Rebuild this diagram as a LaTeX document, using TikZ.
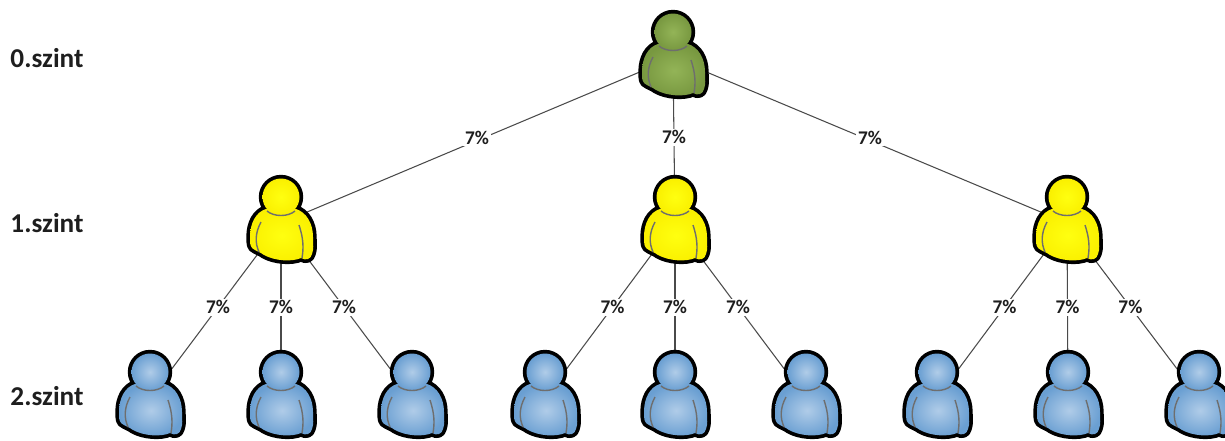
\documentclass[tikz,border=0pt]{standalone}
\usepackage{fontspec}
\setmainfont{Carlito}
\definecolor{txtcol}{HTML}{1E1E1E}
\definecolor{linecol}{HTML}{4A4A4A}
\definecolor{seamcol}{HTML}{6E6E6E}
\definecolor{greenin}{HTML}{93B457}
\definecolor{greenout}{HTML}{789840}
\definecolor{yellowin}{HTML}{FFFF10}
\definecolor{yellowout}{HTML}{FAF000}
\definecolor{bluein}{HTML}{B0CCE8}
\definecolor{blueout}{HTML}{6A9FD2}
\begin{document}
\begin{tikzpicture}[x=.02cm,y=-.02cm]

\tikzstyle{plain} = [draw=none,fill=none,inner sep=0pt,minimum size=2pt];
\tikzstyle{level} = [font=\bfseries\fontsize{15.5}{18}\selectfont,text=txtcol];
\tikzstyle{pct} = [fill=white,inner sep=1pt,font=\bfseries\fontsize{11}{13}\selectfont,text=txtcol];
\tikzstyle{link} = [draw=linecol,line width=.6pt];
\tikzstyle{outline} = [draw=black,line width=4.2pt,line join=round];
\tikzstyle{seam} = [draw=seamcol,line width=.8pt];
\def\bodypath{(-15,12) -- (15,12) .. controls (25,15) and (32,26) .. (32,40)
  .. controls (32,47) and (33,52) .. (31,57) .. controls (30,62) and (25,64) .. (20,61)
  .. controls (11,65) and (-6,64) .. (-17,58) .. controls (-21,55) and (-23,55) .. (-26,53)
  .. controls (-31,51) and (-31,47) .. (-31,40) .. controls (-31,26) and (-25,15) .. (-15,12) -- cycle}
% #1 node, #2 inner colour, #3 outer colour
\def\person#1#2#3{
  \begin{scope}[shift={(#1.center)},yshift=.52cm]
    \path[outline] \bodypath;
    \path[outline] (0,0) circle (18.5);
    \shade[inner color=#2,outer color=#3] \bodypath;
    \shade[inner color=#2,outer color=#3] (0,0) circle (18.5);
    \draw[seam] (-20,25) .. controls (-26,36) and (-26,46) .. (-22,55);
    \draw[seam] (18,28) .. controls (22,40) and (23,50) .. (21,61);
    \draw[seam] (-14,14) .. controls (-7,20) and (7,20) .. (14,14);
  \end{scope}
}
\useasboundingbox (0,0) rectangle (1225,440);

\node[plain] (a0) at (673,58) {};
\node[plain] (b0) at (281,223) {};
\node[plain] (b1) at (675,223) {};
\node[plain] (b2) at (1067,223) {};
\node[plain] (c0) at (150,398) {};
\node[plain] (c1) at (281,398) {};
\node[plain] (c2) at (412,398) {};
\node[plain] (c3) at (545,398) {};
\node[plain] (c4) at (675,398) {};
\node[plain] (c5) at (806,398) {};
\node[plain] (c6) at (937,398) {};
\node[plain] (c7) at (1068,398) {};
\node[plain] (c8) at (1199,398) {};

\node[level] (s0) at (47,58) {0.szint};
\node[level] (s1) at (47,223) {1.szint};
\node[level] (s2) at (47,396) {2.szint};

\draw[link] (a0) -- node[pct,pos=.5,yshift=.06cm] (p0) {7\%} (b0);
\draw[link] (a0) -- node[pct,pos=.48] (p1) {7\%} (b1);
\draw[link] (a0) -- node[pct,pos=.5,yshift=.06cm] (p2) {7\%} (b2);
\draw[link] (b0) -- node[pct,pos=.48] (q0) {7\%} (c0);
\draw[link] (b0) -- node[pct,pos=.48] (q1) {7\%} (c1);
\draw[link] (b0) -- node[pct,pos=.48] (q2) {7\%} (c2);
\draw[link] (b1) -- node[pct,pos=.48] (q3) {7\%} (c3);
\draw[link] (b1) -- node[pct,pos=.48] (q4) {7\%} (c4);
\draw[link] (b1) -- node[pct,pos=.48] (q5) {7\%} (c5);
\draw[link] (b2) -- node[pct,pos=.48] (q6) {7\%} (c6);
\draw[link] (b2) -- node[pct,pos=.48] (q7) {7\%} (c7);
\draw[link] (b2) -- node[pct,pos=.48] (q8) {7\%} (c8);

\person{a0}{greenin}{greenout}
\person{b0}{yellowin}{yellowout}
\person{b1}{yellowin}{yellowout}
\person{b2}{yellowin}{yellowout}
\person{c0}{bluein}{blueout}
\person{c1}{bluein}{blueout}
\person{c2}{bluein}{blueout}
\person{c3}{bluein}{blueout}
\person{c4}{bluein}{blueout}
\person{c5}{bluein}{blueout}
\person{c6}{bluein}{blueout}
\person{c7}{bluein}{blueout}
\person{c8}{bluein}{blueout}

\end{tikzpicture}
\end{document}
